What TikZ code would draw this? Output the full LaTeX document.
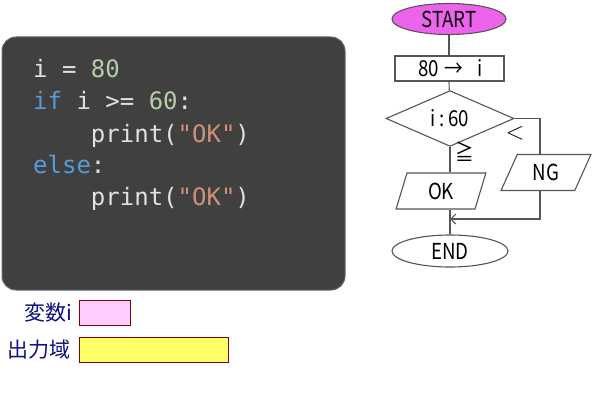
\documentclass[tikz,border=0pt]{standalone}
\usepackage{fontspec}
\setmonofont{DejaVu Sans Mono}
\newfontfamily\jpfont{Noto Sans CJK JP}
\newfontfamily\flowfont[FakeStretch=0.85]{Noto Sans CJK JP}
\usetikzlibrary{arrows.meta,positioning,shapes.geometric}

\definecolor{codebg}{RGB}{64,64,64}
\definecolor{codeedge}{RGB}{90,104,120}
\definecolor{codetxt}{RGB}{225,225,225}
\definecolor{codenum}{RGB}{181,206,168}
\definecolor{codekw}{RGB}{86,156,214}
\definecolor{codestr}{RGB}{206,145,120}
\definecolor{startfill}{RGB}{236,100,236}
\definecolor{flowline}{RGB}{85,85,85}
\definecolor{varfill}{RGB}{255,204,255}
\definecolor{outfill}{RGB}{255,255,102}
\definecolor{boxedge}{RGB}{128,0,0}
\definecolor{legendtxt}{RGB}{15,15,130}

\begin{document}
\begin{tikzpicture}[
  x=1pt, y=-1pt,
  codeline/.style={anchor=base west, inner sep=0pt, text=codetxt, font=\ttfamily\fontsize{24}{28}\selectfont},
  flow/.style={draw=flowline, line width=1.1pt, inner sep=0pt, font=\flowfont\fontsize{22}{24}\selectfont},
  term/.style={flow, ellipse, minimum width=114pt, minimum height=31pt},
  proc/.style={flow, rectangle, minimum width=109pt, minimum height=25pt},
  iobox/.style={flow, trapezium, trapezium stretches=true, minimum width=90pt, minimum height=36pt},
  conn/.style={draw=flowline, line width=1.1pt},
  branchlbl/.style={font=\flowfont\fontsize{22}{24}\selectfont, inner sep=0pt},
  legend/.style={anchor=east, inner sep=0pt, text=legendtxt, font=\jpfont\fontsize{21}{24}\selectfont},
  memo/.style={draw=boxedge, line width=0.8pt, anchor=north west}
]
\useasboundingbox (0,0) rectangle (596,409);

% code panel
\draw[codeedge, fill=codebg, line width=1pt, rounded corners=14pt] (2,37) rectangle (345,290);
\node[codeline] (l1) at (33,78) {i = \textcolor{codenum}{80}};
\node[codeline] (l2) at (33,110) {\textcolor{codekw}{if} i >= \textcolor{codenum}{60}:};
\node[codeline] (l3) at (33,142) {\ \ \ \ print(\textcolor{codestr}{"OK"})};
\node[codeline] (l4) at (33,173) {\textcolor{codekw}{else}:};
\node[codeline] (l5) at (33,205) {\ \ \ \ print(\textcolor{codestr}{"OK"})};

% flowchart
\node[term, fill=startfill] (start) at (449,19) {START};
\node[proc] (assign) at (449.5,68.5) {\hspace{2pt}80\hspace{6pt}→\hspace{14pt}i};
\node[flow, diamond, minimum width=128pt, minimum height=47pt] (cond) at (450,118.5) {i\,:\,60};
\node[iobox, trapezium left angle=76, trapezium right angle=104] (ok) at (441,191) {OK};
\node[iobox, trapezium left angle=66, trapezium right angle=114] (ng) at (546,172.5) {NG};
\node[term, fill=white, minimum width=116pt, minimum height=32pt] (end) at (450,251) {END};
\coordinate (join) at (450,219);
\coordinate (ngtop) at (540,154);
\coordinate (ngbot) at (540,191);

\draw[conn] (start) -- (assign.north -| start.south);
\draw[conn] (assign.south -| start.south) -- (cond);
\draw[conn] (cond.south) -- (ok.north -| cond.south);
\draw[conn] (cond.east) -| (ngtop);
\draw[conn] (ok.south -| cond.south) -- (end);
\draw[conn, -{Straight Barb[length=5pt, width=10pt]}] (ngbot) |- (join);

\node[branchlbl, font=\fontsize{24}{24}\selectfont] (lt) at (515,133) {$<$};
\node[branchlbl] (ge) at (465,152) {≧};

% memory boxes
\node[legend] (varlbl) at (72,313) {変数i};
\node[memo, fill=varfill, minimum width=51pt, minimum height=25pt] (varbox) at (79,300) {};
\node[legend] (outlbl) at (71,350) {出力域};
\node[memo, fill=outfill, minimum width=149pt, minimum height=25pt] (outbox) at (79,337) {};
\end{tikzpicture}
\end{document}
